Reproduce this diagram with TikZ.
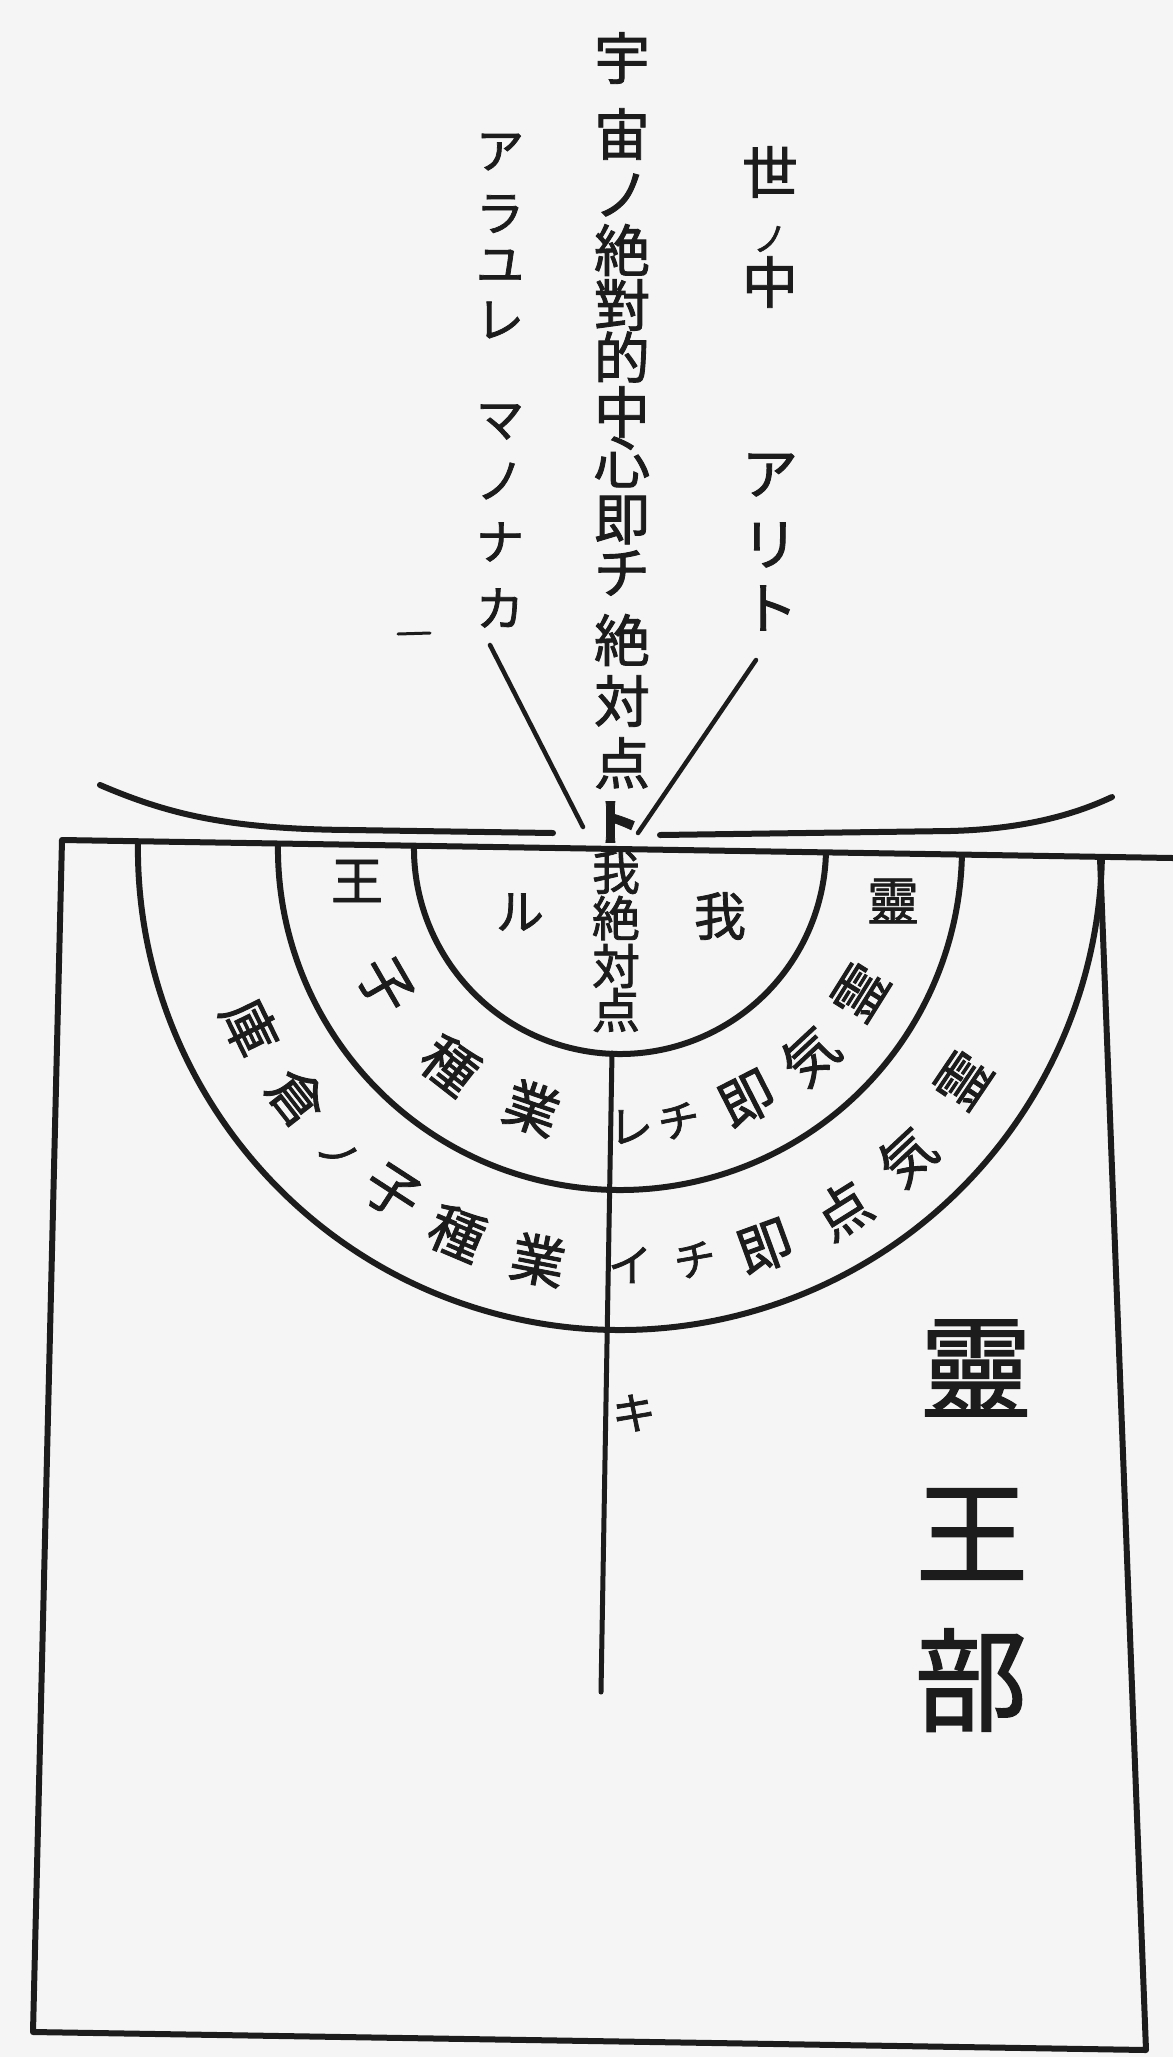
\documentclass[tikz,border=0pt]{standalone}
\usepackage{fontspec}
\newfontfamily\cjk{Noto Sans CJK JP}[FakeBold=1.6]
\definecolor{paper}{RGB}{245,245,245}
\definecolor{inkc}{RGB}{28,28,28}
\tikzset{
  ink/.style={draw=inkc, line width=6pt, line cap=round, line join=round},
  thinink/.style={draw=inkc, line width=4.5pt, line cap=round},
  colch/.style={inner sep=0pt, text=inkc, font=\cjk\fontsize{56}{56}\selectfont},
  smallch/.style={inner sep=0pt, text=inkc, font=\cjk\fontsize{48}{48}\selectfont},
  ringch/.style={inner sep=0pt, text=inkc, font=\cjk\fontsize{55}{55}\selectfont},
  bigch/.style={inner sep=0pt, text=inkc, font=\cjk\fontsize{112}{112}\selectfont},
}
\begin{document}
\begin{tikzpicture}[x=1pt,y=-1pt]
\useasboundingbox (0,0) rectangle (1173,2057);
\fill[paper] (0,0) rectangle (1173,2057);

% horizon curves
\draw[ink] (100,785) .. controls (170,815) and (230,829) .. (350,830) -- (553,833);
\draw[ink] (660,835) -- (950,831) .. controls (1030,829) and (1080,812) .. (1112,797);

% frame
\draw[ink] (1173,858) -- (62,840) -- (33,2032) -- (1146,2050) -- (1100,858);

% rings
\coordinate (ctr) at (620,848);
\begin{scope}
\clip (0,839) -- (1173,858) -- (1173,2057) -- (0,2057) -- cycle;
\draw[ink] (ctr) ++(190:206) arc[start angle=190, end angle=-10, radius=206];
\draw[ink] (ctr) ++(190:342) arc[start angle=190, end angle=-10, radius=342];
\draw[ink] (ctr) ++(190:482) arc[start angle=190, end angle=-10, radius=482];
\end{scope}
\coordinate (vtop) at (612,1053);
\coordinate (vbot) at (601,1692);
\draw[ink, line width=5pt] (vtop) -- (vbot);

% V lines
\coordinate (la) at (490,645);
\coordinate (lb) at (583,827);
\coordinate (ra) at (756,660);
\coordinate (rb) at (638,833);
\draw[thinink] (la) -- (lb);
\draw[thinink] (ra) -- (rb);
\coordinate (da) at (398,634);
\coordinate (db) at (430,633);
\draw[inkc, line width=3pt, line cap=round] (da) -- (db);

% centre column
\foreach \c/\y [count=\i] in {宇/58,宙/134,ノ/195,絶/250,對/305,的/357,中/412,心/462,即/520,チ/573,絶/640,対/701,点/763}
  \node[colch] (c\i) at (622,\y) {\c};
\node[smallch, font=\cjk\bfseries\fontsize{48}{48}\selectfont] (to) at (616,822) {ト};
\foreach \c/\y [count=\i] in {我/872,絶/918,対/966,点/1010}
  \node[smallch] (in\i) at (616,\y) {\c};

% right column
\node[colch] (r1) at (770,172) {世};
\node[smallch, font=\cjk\fontsize{34}{34}\selectfont] (r2) at (770,239) {ノ};
\node[colch] (r3) at (770,282) {中};
\node[colch] (r4) at (770,475) {ア};
\node[colch] (r5) at (770,545) {リ};
\node[colch] (r6) at (770,608) {ト};

% left column
\foreach \c/\y [count=\i] in {ア/152,ラ/214,ユ/266,レ/320,マ/422,ノ/481,ナ/542,カ/608}
  \node[smallch] (l\i) at (500,\y) {\c};

% inner circle labels
\node[smallch] (ru) at (520,912) {ル};
\node[smallch, font=\cjk\fontsize{52}{52}\selectfont] (ga) at (720,916) {我};
\node[smallch, font=\cjk\fontsize{52}{52}\selectfont] (ou) at (357,881) {王};
\node[smallch, font=\cjk\fontsize{52}{52}\selectfont] (rei) at (893,901) {靈};

% second ring, left
\node[ringch, rotate=-60] (m1) at (385,985) {子};
\node[ringch, rotate=-38] (m2) at (450,1065) {種};
\node[ringch, rotate=-19] (m3) at (532,1108) {業};
% second ring, right
\node[ringch, rotate=58] (n1) at (860,992) {霊};
\node[ringch, rotate=43] (n2) at (810,1056) {気};
\node[ringch, rotate=27] (n3) at (747,1099) {即};
\node[ringch, rotate=11, font=\cjk\fontsize{42}{42}\selectfont] (n4) at (679,1121) {チ};

% outer ring, left
\node[ringch, rotate=-64] (o1) at (250,1027) {庫};
\node[ringch, rotate=-52] (o2) at (297,1097) {倉};
\node[ringch, rotate=-43, font=\cjk\fontsize{40}{40}\selectfont] (o3) at (338,1153) {ノ};
\node[ringch, rotate=-33] (o4) at (392,1192) {子};
\node[ringch, rotate=-23] (o5) at (457,1233) {種};
\node[ringch, rotate=-11] (o6) at (538,1260) {業};
% outer ring, right
\node[ringch, rotate=56] (p1) at (963,1080) {霊};
\node[ringch, rotate=43] (p2) at (907,1157) {気};
\node[ringch, rotate=32] (p3) at (843,1210) {点};
\node[ringch, rotate=20] (p4) at (765,1247) {即};
\node[ringch, rotate=10, font=\cjk\fontsize{42}{42}\selectfont] (p5) at (695,1260) {チ};

% reiki along the line
\node[smallch, font=\cjk\fontsize{44}{44}\selectfont] (k1) at (631,1127) {レ};
\node[smallch, font=\cjk\fontsize{44}{44}\selectfont] (k2) at (630,1265) {イ};
\node[smallch, font=\cjk\fontsize{44}{44}\selectfont] (k3) at (634,1413) {キ};

% big label
\node[bigch] (b1) at (976,1368) {靈};
\node[bigch] (b2) at (972,1534) {王};
\node[bigch] (b3) at (971,1680) {部};
\end{tikzpicture}
\end{document}
